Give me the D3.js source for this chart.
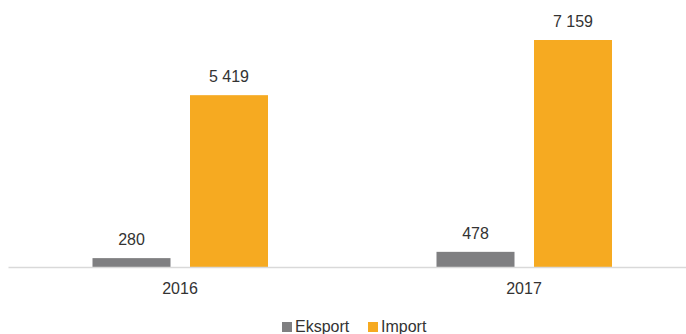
<!DOCTYPE html>
<meta charset="utf-8">
<style>
  body { margin: 0; background: #fff; }
  text { font-family: "Liberation Sans", Arial, sans-serif; fill: #333; }
</style>
<body>
<script src="https://d3js.org/d3.v7.min.js"></script>
<script>

// chart data
var years = ["2016", "2017"];
var series = ["Eksport", "Import"];
var eksport = [280, 478];
var imports = [5419, 7159];
var colors = ["#7f7f81", "#f6aa21"];

var width = 686, height = 334;
var baseline = 267;

var svg = d3.select("body").append("svg")
    .attr("width", width)
    .attr("height", height);

// outer band for the years, inner band for the two series
var x0 = d3.scaleBand()
    .domain(years)
    .range([8, 696]);

var x1 = d3.scaleBand()
    .domain(series)
    .range([84.5, 260])
    .paddingInner(0.2);

var y = d3.scaleLinear()
    .domain([0, 7159])
    .range([baseline, 40]);

var rows = [];
years.forEach(function(yr, i) {
  rows.push({ year: yr, key: "Eksport", value: eksport[i] });
  rows.push({ year: yr, key: "Import", value: imports[i] });
});

var fmt = function(v) { return d3.format(",")(v).replace(/,/g, " "); };

svg.selectAll(".bar")
    .data(rows)
  .enter().append("rect")
    .attr("class", "bar")
    .attr("x", function(d) { return x0(d.year) + x1(d.key); })
    .attr("width", x1.bandwidth())
    .attr("y", function(d) { return y(d.value); })
    .attr("height", function(d) { return baseline - y(d.value); })
    .attr("fill", function(d) { return colors[series.indexOf(d.key)]; });

// value labels
svg.selectAll(".lbl")
    .data(rows)
  .enter().append("text")
    .attr("class", "lbl")
    .attr("x", function(d) { return x0(d.year) + x1(d.key) + x1.bandwidth() / 2; })
    .attr("y", function(d) { return y(d.value) - 13; })
    .attr("text-anchor", "middle")
    .style("font-size", "16px")
    .text(function(d) { return fmt(d.value); });

// x axis
var ax = svg.append("g")
    .attr("transform", "translate(0," + baseline + ")")
    .call(d3.axisBottom(x0).tickSize(0).tickPadding(16));
ax.select(".domain").attr("stroke", "#d9d9d9").attr("stroke-width", 1.5);
ax.selectAll("text")
    .style("font-size", "16px")
    .style("font-family", "Liberation Sans, Arial, sans-serif")
    .attr("fill", "#333");

// legend
var legX = [282, 368];
var leg = svg.selectAll(".leg")
    .data(series)
  .enter().append("g")
    .attr("class", "leg")
    .attr("transform", function(d, i) { return "translate(" + legX[i] + ",322)"; });
leg.append("rect")
    .attr("width", 10)
    .attr("height", 10)
    .attr("fill", function(d, i) { return colors[i]; });
leg.append("text")
    .attr("x", 13)
    .attr("y", 10)
    .style("font-size", "16px")
    .text(function(d) { return d; });

</script>
</body>
